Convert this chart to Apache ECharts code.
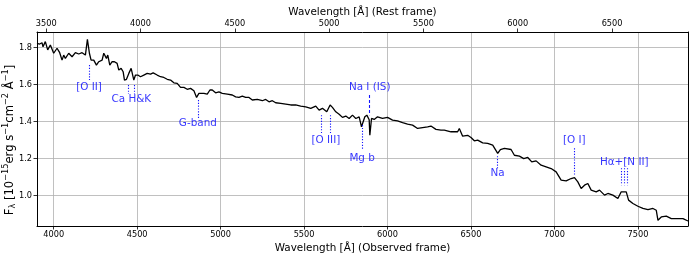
<!DOCTYPE html>
<html>
<head>
<meta charset="utf-8">
<script src="https://cdn.jsdelivr.net/npm/echarts@6/dist/echarts.min.js"></script>
<style>
html,body{margin:0;padding:0;background:#fff;}
#chart{width:694px;height:258px;}
</style>
</head>
<body>
<div id="chart"></div>
<script>
// ---- data ----
const REDSHIFT = 0.13;
const obsWave = [3900,3916,3930,3936,3950,3964,3980,3990,4000,4020,4036,4050,4060,4070,4090,4110,4130,4150,4170,4190,4198,4202,4210,4214,4224,4240,4256,4270,4290,4300,4316,4324,4336,4350,4364,4380,4390,4404,4416,4424,4436,4450,4464,4480,4490,4504,4520,4540,4560,4580,4596,4620,4640,4660,4680,4700,4720,4740,4760,4780,4800,4820,4840,4856,4870,4880,4900,4920,4936,4950,4970,4990,5010,5040,5070,5090,5110,5130,5150,5170,5190,5220,5250,5270,5290,5310,5330,5360,5390,5420,5450,5480,5510,5540,5570,5590,5610,5636,5656,5670,5690,5710,5730,5750,5770,5790,5810,5830,5844,5864,5876,5890,5894,5900,5904,5920,5940,5970,6000,6030,6060,6090,6120,6150,6180,6210,6240,6260,6290,6320,6340,6380,6420,6430,6450,6480,6500,6520,6540,6570,6600,6630,6660,6676,6700,6740,6760,6790,6816,6840,6864,6890,6920,6950,6980,7010,7040,7070,7100,7120,7140,7160,7180,7200,7220,7250,7270,7300,7320,7350,7380,7400,7430,7444,7470,7500,7530,7560,7590,7610,7620,7640,7670,7700,7740,7770,7800];
const fluxVals = [1.824,1.82,1.827,1.805,1.833,1.788,1.815,1.824,1.77,1.797,1.773,1.733,1.76,1.742,1.77,1.751,1.773,1.766,1.773,1.76,1.76,1.845,1.845,1.77,1.733,1.733,1.706,1.724,1.733,1.77,1.742,1.76,1.706,1.724,1.724,1.715,1.679,1.688,1.67,1.625,1.629,1.661,1.688,1.625,1.652,1.652,1.643,1.652,1.661,1.657,1.664,1.652,1.643,1.639,1.629,1.625,1.61,1.607,1.585,1.585,1.575,1.58,1.567,1.531,1.553,1.561,1.553,1.549,1.571,1.571,1.556,1.561,1.553,1.549,1.544,1.534,1.531,1.538,1.531,1.531,1.517,1.52,1.513,1.52,1.507,1.513,1.502,1.499,1.495,1.49,1.49,1.484,1.48,1.472,1.484,1.462,1.472,1.453,1.49,1.477,1.453,1.44,1.423,1.43,1.417,1.435,1.417,1.426,1.372,1.426,1.435,1.41,1.326,1.326,1.417,1.412,1.426,1.417,1.423,1.408,1.404,1.394,1.386,1.381,1.363,1.368,1.372,1.376,1.358,1.354,1.354,1.345,1.345,1.363,1.321,1.326,1.314,1.296,1.3,1.285,1.282,1.273,1.228,1.249,1.255,1.249,1.218,1.213,1.2,1.206,1.182,1.1875,1.164,1.155,1.146,1.128,1.083,1.079,1.092,1.097,1.074,1.038,1.056,1.065,1.029,1.02,1.029,1.002,1.011,1.002,0.984,1.02,1.02,0.975,0.957,0.942,0.93,0.924,0.93,0.92,0.866,0.884,0.888,0.875,0.875,0.875,0.862];

const obsTicks = [4000,4500,5000,5500,6000,6500,7000,7500];
const restTicks = [3500,4000,4500,5000,5500,6000,6500];
const fluxTicks = [1.0,1.2,1.4,1.6,1.8];

// spectral features
const featNames = ['[O II]','Ca H&K','G-band','[O III]','Mg b','Na I (IS)','Na','[O I]','H\u03b1+[N II]'];
const featRest  = [[3727],[3934,3969],[4304],[4959,5007],[5175],[null],[5893],[6300],[6548,6563,6583]];
const featObsFixed = [null,null,null,null,null,5893,null,null,null]; // interstellar: observed frame
const featLineTop = [1.706,1.598,1.517,1.435,1.381,1.544,1.213,1.256,1.148];
const featLineBot = [1.625,1.549,1.419,1.338,1.245,1.435,1.148,1.110,1.056];
const featLabelY  = [1.587,1.520,1.390,1.300,1.200,1.585,1.120,1.300,1.182];
const featDashed  = [false,false,false,false,false,true,false,false,false];

// ---- build ----
const spec = obsWave.map((w,i)=>[w,fluxVals[i]]);
const markData = [];
const labelData = [];
featNames.forEach((name,i)=>{
  const xs = featObsFixed[i] !== null ? [featObsFixed[i]] : featRest[i].map(r=>r*(1+REDSHIFT));
  xs.forEach(x=>{
    markData.push([
      {coord:[x,featLineTop[i]], lineStyle:{type: featDashed[i] ? [3,2] : [1.2,1.6]}},
      {coord:[x,featLineBot[i]]}
    ]);
  });
  const cx = xs.reduce((a,b)=>a+b,0)/xs.length;
  labelData.push([cx, featLabelY[i], name]);
});

const FONT = 'DejaVu Sans';
const chart = echarts.init(document.getElementById('chart'), null, {renderer:'canvas'});
const gridColor = '#b0b0b0';
chart.setOption({
  animation:false,
  backgroundColor:'#fff',
  textStyle:{fontFamily:FONT},
  grid:{left:37,right:6,top:32,bottom:32,containLabel:false,outerBoundsMode:'none'},
  xAxis:[{
    type:'value', position:'bottom', min:3900, max:7800,
    name:'Wavelength [\u00c5] (Observed frame)', nameLocation:'middle', nameGap:17, nameMoveOverlap:false,
    nameTextStyle:{fontFamily:FONT,fontSize:10.4,color:'#000'},
    axisLine:{onZero:false,lineStyle:{color:'#000',width:1}},
    axisTick:{show:true,length:3.5,lineStyle:{color:'#000',width:0.8},customValues:obsTicks},
    axisLabel:{fontFamily:FONT,fontSize:8.2,color:'#000',margin:5,customValues:obsTicks,formatter:v=>String(v)},
    splitLine:{show:true,lineStyle:{color:gridColor,width:0.8}}
  },{
    type:'value', position:'top', min:3900/(1+REDSHIFT), max:7800/(1+REDSHIFT),
    name:'Wavelength [\u00c5] (Rest frame)', nameLocation:'middle', nameGap:15, nameMoveOverlap:false,
    nameTextStyle:{fontFamily:FONT,fontSize:10.4,color:'#000'},
    axisLine:{onZero:false,lineStyle:{color:'#000',width:1}},
    axisTick:{show:true,length:3.5,lineStyle:{color:'#000',width:0.8},customValues:restTicks},
    axisLabel:{fontFamily:FONT,fontSize:8.2,color:'#000',margin:4,customValues:restTicks,formatter:v=>String(v)},
    splitLine:{show:false}
  }],
  yAxis:[{
    type:'value', min:0.835, max:1.885,
    name:'{b|F}{sub|\u03bb}{b| [10}{sup|\u221215}{b|erg s}{sup|\u22121}{b|cm}{sup|\u22122}{b| \u00c5}{sup|\u22121}{b|]}',
    nameLocation:'middle', nameGap:20, nameRotate:90, nameMoveOverlap:false,
    nameTextStyle:{fontFamily:FONT,color:'#000',padding:[0,22,0,0],rich:{
      b:{fontFamily:FONT,fontSize:11.6,color:'#000',lineHeight:15},
      sup:{fontFamily:FONT,fontSize:8.2,color:'#000',lineHeight:9,verticalAlign:'top'},
      sub:{fontFamily:FONT,fontSize:8.2,color:'#000',lineHeight:9,verticalAlign:'bottom'}
    }},
    axisLine:{show:true,onZero:false,lineStyle:{color:'#000',width:1}},
    axisTick:{show:true,length:3.5,lineStyle:{color:'#000',width:0.8},customValues:fluxTicks},
    axisLabel:{fontFamily:FONT,fontSize:8.2,color:'#000',margin:5,customValues:fluxTicks,formatter:v=>v.toFixed(1)},
    splitLine:{show:true,lineStyle:{color:gridColor,width:0.8}}
  },{
    type:'value', min:0.835, max:1.885, position:'right',
    axisLine:{show:true,onZero:false,lineStyle:{color:'#000',width:1}},
    axisTick:{show:false}, axisLabel:{show:false}, splitLine:{show:false}
  }],
  series:[{
    type:'line', xAxisIndex:0, yAxisIndex:0, data:spec,
    showSymbol:false, symbol:'none',
    lineStyle:{color:'#000',width:1.3},
    z:3,
    markLine:{
      silent:true, symbol:['none','none'], label:{show:false},
      lineStyle:{color:'#1414ff',width:1.1,opacity:1},
      data:markData, animation:false
    }
  },{
    type:'scatter', xAxisIndex:0, yAxisIndex:0, data:labelData,
    symbolSize:0, silent:true, z:4,
    label:{show:true,position:'inside',formatter:p=>p.data[2],
      fontFamily:FONT,fontSize:10.4,color:'#0000ff'}
  }]
});
</script>
</body>
</html>
